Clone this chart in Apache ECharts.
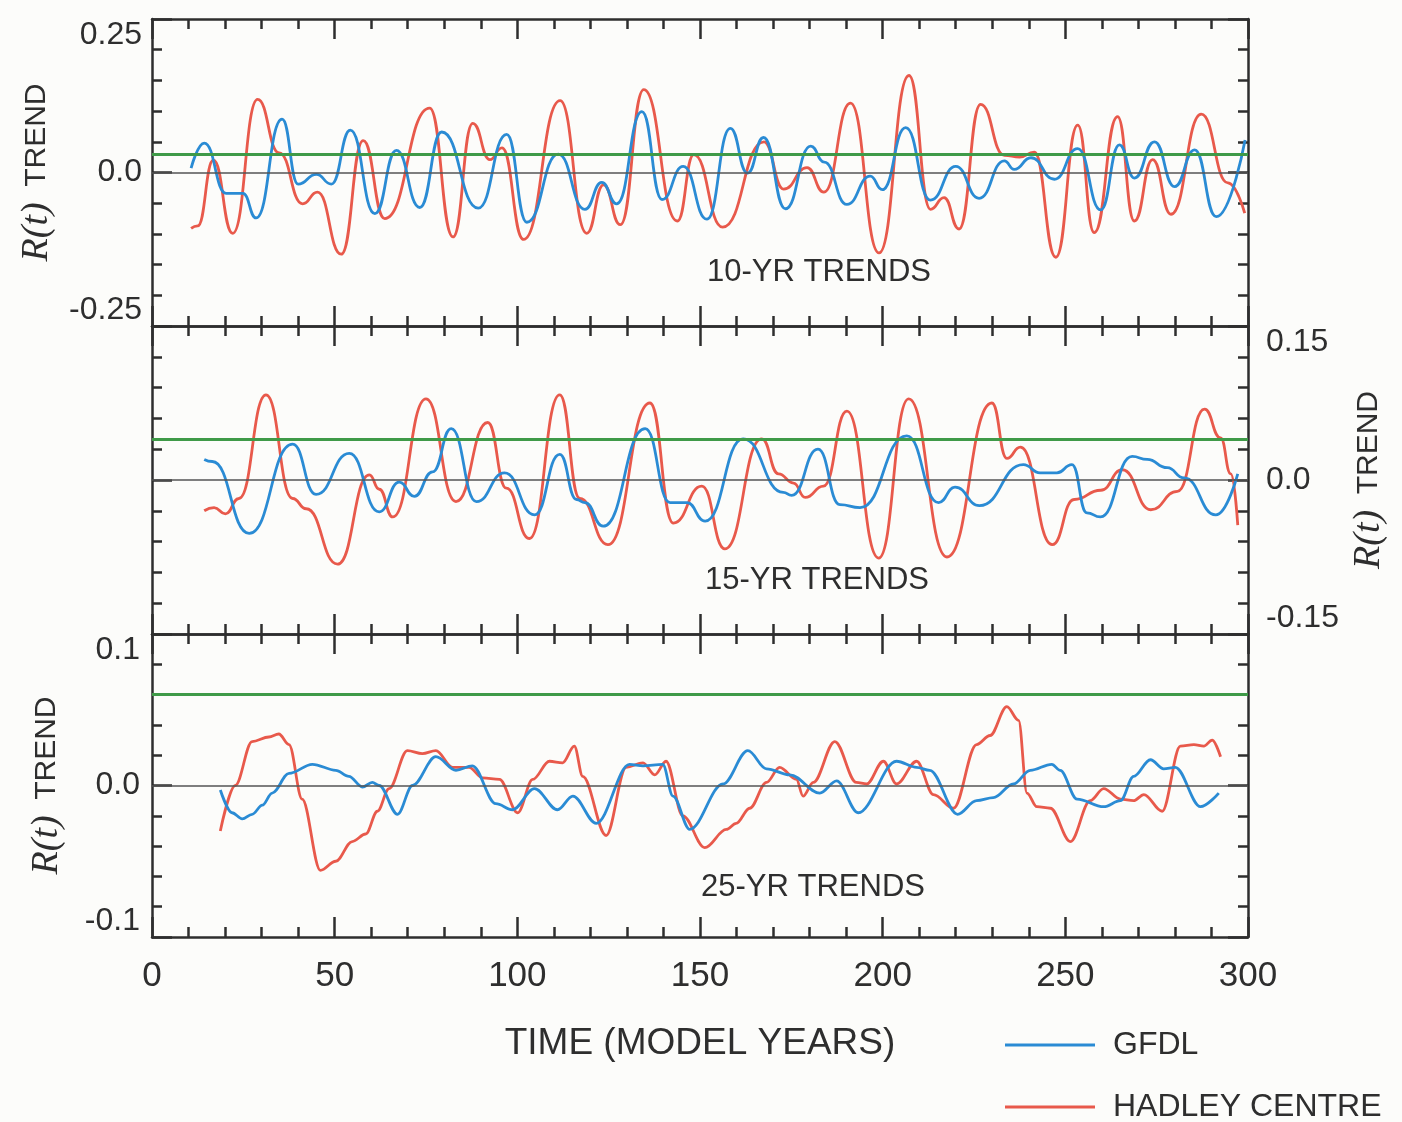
<!DOCTYPE html>
<html>
<head>
<meta charset="utf-8">
<script src="https://cdn.jsdelivr.net/npm/echarts@6/dist/echarts.min.js"></script>
<style>
html,body{margin:0;padding:0;background:#fcfcfa;}
#chart{width:1402px;height:1122px;}
</style>
</head>
<body>
<div id="chart"></div>
<script>
// ---------------- data ----------------
const xTickLabels = ['0','50','100','150','200','250','300'];
const yLimits = [0.25, 0.15, 0.1];
const yTickLabels = [['-0.25','0.0','0.25'], ['-0.15','0.0','0.15'], ['-0.1','0.0','0.1']];
const panelTitles = ['10-YR TRENDS','15-YR TRENDS','25-YR TRENDS'];
const seriesNames = ['GFDL','HADLEY CENTRE'];
const greenLevels = [0.027, 0.035, 0.060];

const gfdl10 = [[10.7,0.007],[14.3,0.048],[20.3,-0.034],[24.9,-0.034],[28.5,-0.074],[35.6,0.087],[40.0,-0.019],[45.0,-0.003],[49.1,-0.019],[54.3,0.069],[61.0,-0.067],[66.9,0.036],[73.3,-0.057],[79.3,0.066],[89.3,-0.058],[97.1,0.062],[102.6,-0.081],[111.2,0.030],[118.5,-0.060],[123.1,-0.016],[127.2,-0.051],[134.1,0.099],[139.6,-0.044],[145.4,0.010],[151.9,-0.076],[158.3,0.072],[163.0,-0.001],[167.4,0.057],[173.4,-0.059],[180.3,0.043],[184.0,0.017],[190.2,-0.052],[196.6,-0.006],[199.9,-0.028],[206.3,0.073],[213.1,-0.045],[220.0,0.010],[226.4,-0.042],[233.3,0.019],[236.0,0.005],[240.6,0.024],[247.0,-0.011],[253.4,0.039],[259.7,-0.061],[264.8,0.045],[268.9,-0.009],[274.4,0.050],[279.9,-0.023],[285.4,0.037],[291.3,-0.072],[299.2,0.053]];
const hadley10 = [[10.7,-0.091],[12.5,-0.087],[16.8,0.020],[22.1,-0.099],[28.9,0.119],[34.8,0.032],[41.2,-0.051],[45.3,-0.032],[51.8,-0.133],[57.8,0.052],[63.7,-0.075],[76.0,0.105],[82.4,-0.105],[87.8,0.080],[92.5,0.021],[95.8,0.040],[101.7,-0.109],[111.7,0.117],[119.0,-0.099],[123.6,-0.020],[128.2,-0.085],[134.6,0.135],[143.8,-0.079],[148.3,0.029],[156.2,-0.089],[167.5,0.050],[172.9,-0.027],[179.3,0.008],[183.9,-0.032],[191.2,0.113],[199.0,-0.131],[207.2,0.158],[213.1,-0.060],[216.8,-0.041],[220.9,-0.092],[226.8,0.111],[233.3,0.028],[237.5,0.025],[241.5,0.033],[247.4,-0.138],[253.4,0.077],[257.9,-0.098],[264.3,0.091],[268.9,-0.079],[273.9,0.021],[278.9,-0.068],[287.2,0.095],[294.5,-0.017],[299.1,-0.066]];

const gfdl15 = [[14.3,0.020],[16.5,0.018],[26.6,-0.052],[38.5,0.035],[44.9,-0.014],[54.0,0.026],[62.2,-0.031],[67.7,-0.002],[71.8,-0.016],[76.8,0.008],[81.9,0.050],[88.8,-0.021],[96.5,0.007],[104.7,-0.034],[111.6,0.025],[116.2,-0.019],[118.5,-0.022],[123.5,-0.045],[135.0,0.050],[141.8,-0.022],[146.4,-0.022],[151.4,-0.040],[161.8,0.040],[172.8,-0.012],[175.1,-0.015],[182.3,0.030],[188.3,-0.024],[193.8,-0.027],[206.6,0.043],[215.3,-0.022],[219.8,-0.007],[226.5,-0.025],[238.5,0.015],[243.1,0.007],[247.7,0.007],[251.8,0.015],[255.9,-0.032],[259.6,-0.036],[268.3,0.023],[272.4,0.020],[277.9,0.012],[282.5,0.002],[291.2,-0.034],[297.2,0.006]];
const hadley15 = [[14.3,-0.030],[17.0,-0.027],[20.1,-0.033],[23.8,-0.018],[31.2,0.083],[38.5,-0.018],[42.2,-0.028],[50.8,-0.082],[59.5,0.005],[62.2,-0.009],[65.9,-0.036],[75.0,0.079],[83.2,-0.021],[91.9,0.056],[97.0,-0.008],[103.3,-0.057],[111.6,0.083],[117.1,-0.018],[124.8,-0.063],[136.3,0.075],[142.7,-0.042],[150.5,-0.006],[156.8,-0.067],[166.9,0.040],[171.5,0.006],[175.6,-0.003],[178.8,-0.017],[183.8,-0.006],[190.2,0.067],[198.9,-0.076],[207.1,0.079],[217.6,-0.075],[229.9,0.075],[234.0,0.021],[237.7,0.032],[246.4,-0.063],[252.4,-0.019],[259.7,-0.010],[265.6,0.010],[273.4,-0.029],[280.7,-0.011],[288.1,0.069],[292.5,0.041],[295.3,0.006],[297.2,-0.044]];

const gfdl25 = [[18.7,-0.003],[21.9,-0.018],[24.7,-0.022],[27.4,-0.019],[30.2,-0.013],[32.9,-0.005],[37.5,0.008],[43.9,0.014],[50.3,0.010],[53.9,0.006],[57.6,-0.001],[60.3,0.002],[62.2,0.000],[67.2,-0.019],[71.3,0.000],[77.7,0.019],[83.2,0.010],[87.7,0.013],[94.1,-0.012],[98.7,-0.016],[104.7,-0.002],[111.0,-0.016],[115.2,-0.007],[121.6,-0.025],[130.7,0.014],[134.4,0.013],[139.8,0.014],[142.6,-0.007],[147.2,-0.029],[156.3,0.001],[163.1,0.023],[168.2,0.011],[174.6,0.007],[182.8,-0.005],[187.4,0.003],[193.3,-0.018],[203.8,0.016],[209.3,0.012],[212.9,0.010],[220.5,-0.019],[225.7,-0.010],[230.3,-0.008],[235.8,0.001],[240.4,0.010],[246.3,0.014],[248.6,0.010],[253.2,-0.009],[260.5,-0.014],[265.1,-0.010],[268.7,0.006],[273.3,0.017],[276.9,0.011],[280.1,0.012],[287.0,-0.014],[292.0,-0.005]];
const hadley25 = [[18.7,-0.030],[22.8,0.000],[27.4,0.029],[32.0,0.032],[34.7,0.034],[37.5,0.027],[41.1,-0.009],[46.1,-0.056],[50.3,-0.050],[54.8,-0.037],[58.5,-0.032],[61.7,-0.017],[64.9,-0.002],[69.9,0.023],[74.0,0.021],[77.7,0.023],[82.3,0.012],[86.8,0.012],[90.5,0.005],[95.1,0.004],[100.1,-0.018],[104.2,0.004],[108.8,0.016],[112.4,0.015],[115.6,0.026],[117.9,0.006],[124.3,-0.033],[129.8,0.012],[134.4,0.015],[137.6,0.007],[140.7,0.016],[145.3,-0.020],[151.3,-0.041],[157.2,-0.029],[159.9,-0.025],[163.6,-0.015],[168.2,0.002],[171.8,0.012],[176.4,0.004],[178.2,-0.007],[181.0,0.002],[186.9,0.029],[192.8,0.002],[195.6,0.001],[200.2,0.016],[203.8,0.001],[209.3,0.016],[213.9,-0.006],[219.4,-0.015],[225.7,0.027],[229.4,0.033],[234.0,0.052],[237.2,0.043],[239.5,-0.005],[242.2,-0.014],[245.9,-0.015],[251.4,-0.037],[256.8,-0.010],[260.5,-0.002],[265.1,-0.009],[268.7,-0.010],[271.5,-0.006],[276.5,-0.017],[281.5,0.026],[285.2,0.027],[287.9,0.026],[290.2,0.030],[292.5,0.019]];

const gfdlSets = [gfdl10, gfdl15, gfdl25];
const hadleySets = [hadley10, hadley15, hadley25];

// ---------------- style / layout ----------------
const ink = '#2e2e2e';
const sans = "'Liberation Sans', Arial, Helvetica, sans-serif";
const serif = "'Liberation Serif', 'Times New Roman', serif";
const blue = '#2a8bd4';
const red = '#e8594b';
const green = '#3f9a48';
const grids = [
  {left: 152, top: 19,  width: 1096, height: 307},
  {left: 152, top: 326, width: 1096, height: 308},
  {left: 152, top: 634, width: 1096, height: 303}
];

function xAx(g, pos, showLabels) {
  return {
    type: 'value', gridIndex: g, position: pos, min: 0, max: 300, interval: 50,
    axisLine: {show: true, onZero: false, lineStyle: {color: ink, width: 2.5}},
    axisTick: {show: true, inside: true, length: 20, lineStyle: {color: ink, width: 2.5}},
    minorTick: {show: true, splitNumber: 5, length: 10, lineStyle: {color: ink, width: 2.5}},
    splitLine: {show: false}, minorSplitLine: {show: false},
    axisLabel: {show: showLabels, margin: 22, fontSize: 35, color: ink, fontFamily: sans,
      formatter: v => xTickLabels[Math.round(v / 50)]},
    name: showLabels ? 'TIME (MODEL YEARS)' : '',
    nameLocation: 'middle', nameGap: 88,
    nameTextStyle: {fontSize: 37, color: ink, fontFamily: sans}
  };
}

function yLabel(p, v) {
  const labs = yTickLabels[p];
  for (const s of labs) { if (Math.abs(parseFloat(s) - v) < 1e-6) return s; }
  return '';
}

function yAx(g, pos, p, showLabels, showName, nameGap, labelMargin) {
  const lim = yLimits[p];
  return {
    type: 'value', gridIndex: g, position: pos, min: -lim, max: lim, interval: lim,
    axisLine: {show: true, onZero: false, lineStyle: {color: ink, width: 2.5}},
    axisTick: {show: true, inside: true, length: 20, lineStyle: {color: ink, width: 2.5}},
    minorTick: {show: true, splitNumber: 5, length: 10, lineStyle: {color: ink, width: 2.5}},
    splitLine: {show: false}, minorSplitLine: {show: false},
    axisLabel: {show: showLabels, margin: labelMargin || 10, fontSize: 32, color: ink, fontFamily: sans,
      formatter: v => yLabel(p, v),
      verticalAlignMaxLabel: 'top', verticalAlignMinLabel: 'bottom'},
    name: showName ? '{i|R(t)}  {n|TREND}' : '',
    nameLocation: 'middle', nameRotate: 90, nameGap: nameGap || 0,
    nameTextStyle: {fontSize: 28, color: ink, fontFamily: sans,
      rich: {
        i: {fontFamily: serif, fontStyle: 'italic', fontSize: 38, color: ink},
        n: {fontFamily: sans, fontSize: 30, color: ink}
      }}
  };
}

const xAxes = [
  xAx(0, 'bottom', false), xAx(1, 'bottom', false), xAx(2, 'bottom', true),
  xAx(0, 'top', false), xAx(1, 'top', false), xAx(2, 'top', false)
];
const yAxes = [
  yAx(0, 'left', 0, true, true, 96, 10),
  yAx(1, 'right', 1, true, true, 96, 18),
  yAx(2, 'left', 2, true, true, 86, 12),
  yAx(0, 'right', 0, false, false),
  yAx(1, 'left', 1, false, false),
  yAx(2, 'right', 2, false, false)
];

const series = [];
for (let p = 0; p < 3; p++) {
  const sm = p === 2 ? 0.35 : 0.5;
  series.push({
    name: seriesNames[0], type: 'line', xAxisIndex: p, yAxisIndex: p,
    data: gfdlSets[p], showSymbol: false, symbol: 'none', smooth: sm, smoothMonotone: 'x',
    lineStyle: {color: blue, width: 2.8}, itemStyle: {color: blue}, z: 3,
    markLine: {
      silent: true, symbol: ['none', 'none'], label: {show: false}, animation: false,
      data: [
        {yAxis: 0, lineStyle: {color: '#555', width: 1.5, type: 'solid'}},
        {yAxis: greenLevels[p], lineStyle: {color: green, width: 3, type: 'solid'}}
      ]
    }
  });
  series.push({
    name: seriesNames[1], type: 'line', xAxisIndex: p, yAxisIndex: p,
    data: hadleySets[p], showSymbol: false, symbol: 'none', smooth: sm, smoothMonotone: 'x',
    lineStyle: {color: red, width: 2.8}, itemStyle: {color: red}, z: 2
  });
}

const titlePos = [[819, 272], [817, 580], [813, 887]];
const graphics = panelTitles.map((t, i) => ({
  type: 'text', x: titlePos[i][0], y: titlePos[i][1], z: 10,
  style: {text: t, fill: ink, fontSize: 31, fontFamily: sans,
    align: 'center', verticalAlign: 'middle', textAlign: 'center', textVerticalAlign: 'middle'}
}));

const legendBase = {
  orient: 'vertical', left: 1005, padding: 0, itemWidth: 90, itemHeight: 3,
  icon: 'rect', selectedMode: false,
  textStyle: {fontSize: 32, color: ink, fontFamily: sans, padding: [0, 0, 0, 13]}
};

const chart = echarts.init(document.getElementById('chart'), null, {renderer: 'canvas'});
chart.setOption({
  backgroundColor: '#fcfcfa',
  animation: false,
  grid: grids,
  xAxis: xAxes,
  yAxis: yAxes,
  series: series,
  graphic: graphics,
  legend: [
    Object.assign({}, legendBase, {top: 1029, data: [seriesNames[0]]}),
    Object.assign({}, legendBase, {top: 1091, data: [seriesNames[1]]})
  ]
});
</script>
</body>
</html>
